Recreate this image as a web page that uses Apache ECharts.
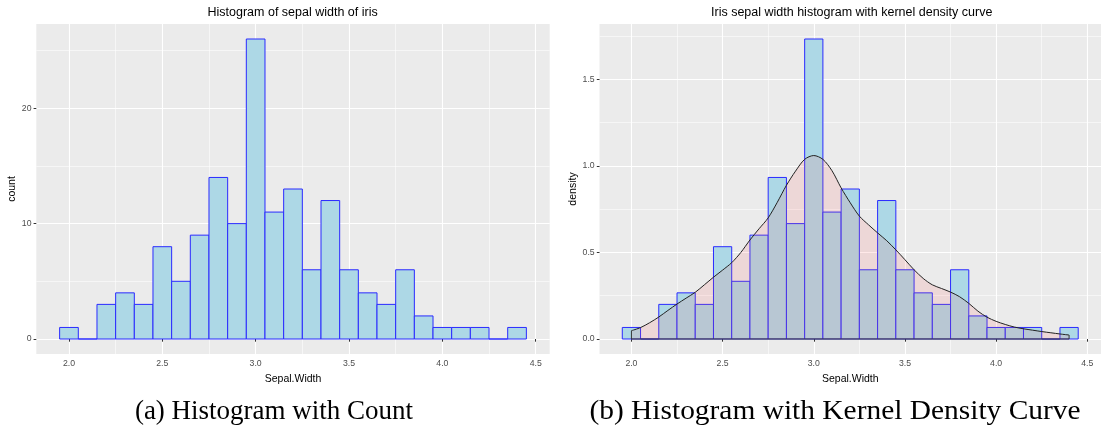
<!DOCTYPE html>
<html>
<head>
<meta charset="utf-8">
<script src="https://cdn.jsdelivr.net/npm/echarts@6/dist/echarts.min.js"></script>
<style>
  html, body { margin: 0; padding: 0; background: #fff; }
  #chart { width: 1101px; height: 431px; }
</style>
</head>
<body>
<div id="chart"></div>
<script>
// Iris sepal width, binned at 0.1 (bin centres 2.0 .. 4.4)
const binCentres = [2.0, 2.1, 2.2, 2.3, 2.4, 2.5, 2.6, 2.7, 2.8, 2.9, 3.0, 3.1, 3.2,
                    3.3, 3.4, 3.5, 3.6, 3.7, 3.8, 3.9, 4.0, 4.1, 4.2, 4.3, 4.4];
const counts = [1, 0, 3, 4, 3, 8, 5, 9, 14, 10, 26, 11, 13,
                6, 12, 6, 4, 3, 6, 2, 1, 1, 1, 0, 1];
const binWidth = 0.1;

// Kernel density estimate of sepal width
const kdeX = [2.00, 2.05, 2.10, 2.15, 2.20, 2.25, 2.30, 2.35, 2.40, 2.45,
              2.50, 2.55, 2.60, 2.65, 2.70, 2.75, 2.80, 2.85, 2.90, 2.95,
              3.00, 3.05, 3.10, 3.15, 3.20, 3.25, 3.30, 3.35, 3.40, 3.45,
              3.50, 3.55, 3.60, 3.65, 3.70, 3.75, 3.80, 3.85, 3.90, 3.95,
              4.00, 4.05, 4.10, 4.15, 4.20, 4.25, 4.30, 4.35, 4.40];
const kdeY = [0.048, 0.066, 0.094, 0.127, 0.165, 0.202, 0.236, 0.270, 0.313, 0.357,
              0.398, 0.441, 0.500, 0.572, 0.637, 0.700, 0.790, 0.888, 0.970, 1.038,
              1.060, 1.038, 0.972, 0.873, 0.787, 0.710, 0.660, 0.613, 0.568, 0.515,
              0.458, 0.400, 0.350, 0.313, 0.292, 0.271, 0.244, 0.206, 0.161, 0.126,
              0.102, 0.084, 0.069, 0.059, 0.051, 0.043, 0.036, 0.029, 0.023];

// Axis breaks
const xMajor = [2.0, 2.5, 3.0, 3.5, 4.0, 4.5];
const xMinor = [2.25, 2.75, 3.25, 3.75, 4.25];
const countMajor = [0, 10, 20];
const countMinor = [5, 15, 25];
const densityMajor = [0, 0.5, 1.0, 1.5];
const densityMinor = [0.25, 0.75, 1.25, 1.75];

const titles = ['Histogram of sepal width of iris',
                'Iris sepal width histogram with kernel density curve'];
const captions = ['(a) Histogram with Count',
                  '(b) Histogram with Kernel Density Curve'];

// Derived series
const total = counts.reduce((a, b) => a + b, 0);
const densities = counts.map(c => c / (total * binWidth));
const countData = binCentres.map((x, i) => [x, counts[i]]);
const densityData = binCentres.map((x, i) => [x, densities[i]]);
const kdeData = kdeX.map((x, i) => [x, kdeY[i]]);
const kdeBase = [
  [kdeX[0], kdeY[0]], [kdeX[0], 0],
  [kdeX[kdeX.length - 1], 0], [kdeX[kdeX.length - 1], kdeY[kdeY.length - 1]]
];

// ggplot-style expanded limits (5% on each side)
function expand(lo, hi) {
  const pad = (hi - lo) * 0.05;
  return [lo - pad, hi + pad];
}
const xLim = expand(binCentres[0] - binWidth / 2, binCentres[binCentres.length - 1] + binWidth / 2);
const countLim = expand(0, Math.max(...counts));
const densityLim = expand(0, Math.max(...densities));

const FONT = '"Liberation Sans", Arial, sans-serif';
const SERIF = '"Liberation Serif", "Times New Roman", serif';
const tickTextStyle = { color: '#4D4D4D', fontSize: 8.7, fontFamily: FONT };

function majorAxis(dim, gridIndex, lim, values, fmt, name, nameGap) {
  return {
    type: 'value', gridIndex, min: lim[0], max: lim[1],
    name, nameLocation: 'middle', nameGap,
    nameTextStyle: { color: '#000', fontSize: 10.5, fontFamily: FONT },
    axisLine: { show: false },
    axisTick: { show: true, length: 2.7, customValues: values, lineStyle: { color: '#333', width: 1 } },
    axisLabel: { show: true, customValues: values, formatter: fmt, margin: dim === 'x' ? 5.5 : 4.8, ...tickTextStyle },
    splitLine: { show: true, lineStyle: { color: '#FFFFFF', width: 1.1 } }
  };
}
function minorAxis(gridIndex, lim, values) {
  return {
    type: 'value', gridIndex, min: lim[0], max: lim[1],
    axisLine: { show: false },
    axisTick: { show: false, customValues: values },
    axisLabel: { show: false, customValues: values },
    splitLine: { show: true, lineStyle: { color: '#FFFFFF', width: 0.55 } }
  };
}

const fmt1 = v => v.toFixed(1);
const fmt0 = v => String(Math.round(v));

function barItem(params, api) {
  const x = api.value(0), h = api.value(1);
  const p0 = api.coord([x - binWidth / 2, h]);
  const p1 = api.coord([x + binWidth / 2, 0]);
  return {
    type: 'rect',
    shape: { x: p0[0], y: p0[1], width: p1[0] - p0[0], height: p1[1] - p0[1] },
    style: { fill: '#ADD8E6', stroke: '#2a2aff', lineWidth: 1 }
  };
}

const chart = echarts.init(document.getElementById('chart'), null, { renderer: 'canvas' });

chart.setOption({
  animation: false,
  backgroundColor: '#FFFFFF',
  grid: [
    { left: 36.3, top: 24, width: 513.4, height: 330, show: true, backgroundColor: '#EBEBEB', borderWidth: 0 },
    { left: 599.5, top: 24, width: 510, height: 330, show: true, backgroundColor: '#EBEBEB', borderWidth: 0 }
  ],
  xAxis: [
    majorAxis('x', 0, xLim, xMajor, fmt1, 'Sepal.Width', 17),
    minorAxis(0, xLim, xMinor),
    majorAxis('x', 1, xLim, xMajor, fmt1, 'Sepal.Width', 17),
    minorAxis(1, xLim, xMinor)
  ],
  yAxis: [
    majorAxis('y', 0, countLim, countMajor, fmt0, 'count', 17),
    minorAxis(0, countLim, countMinor),
    majorAxis('y', 1, densityLim, densityMajor, fmt1, 'density', 21),
    minorAxis(1, densityLim, densityMinor)
  ],
  series: [
    {
      type: 'custom', xAxisIndex: 0, yAxisIndex: 0,
      renderItem: barItem, encode: { x: 0, y: 1 }, data: countData, z: 2
    },
    {
      type: 'custom', xAxisIndex: 2, yAxisIndex: 2,
      renderItem: barItem, encode: { x: 0, y: 1 }, data: densityData, z: 2
    },
    {
      type: 'line', xAxisIndex: 2, yAxisIndex: 2, data: kdeData, z: 3,
      smooth: 0.3, symbol: 'none',
      lineStyle: { color: '#222', width: 1 },
      areaStyle: { color: 'rgba(255,102,102,0.2)', origin: 0 }
    },
    {
      type: 'line', xAxisIndex: 2, yAxisIndex: 2, data: kdeBase, z: 3,
      symbol: 'none', lineStyle: { color: '#333', width: 1 }
    }
  ],
  graphic: [
    { type: 'text', x: 292.6, y: 13, style: { text: titles[0], fill: '#000', font: '12.5px ' + FONT, textAlign: 'center', textVerticalAlign: 'middle' } },
    { type: 'text', x: 851.7, y: 13, style: { text: titles[1], fill: '#000', font: '12.5px ' + FONT, textAlign: 'center', textVerticalAlign: 'middle' } },
    { type: 'text', x: 274, y: 412, style: { text: captions[0], fill: '#000', font: '27px ' + SERIF, textAlign: 'center', textVerticalAlign: 'middle' } },
    { type: 'text', x: 835, y: 412, scaleX: 1.09, style: { text: captions[1], fill: '#000', font: '27px ' + SERIF, textAlign: 'center', textVerticalAlign: 'middle' } }
  ]
});
</script>
</body>
</html>
